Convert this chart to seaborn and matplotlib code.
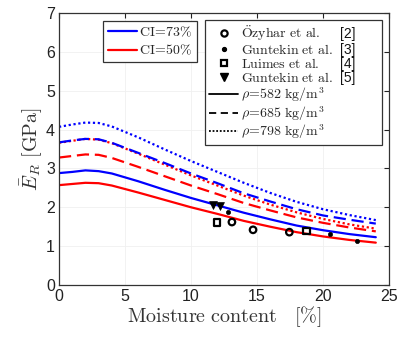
import matplotlib
matplotlib.use("Agg")
import matplotlib.pyplot as plt
import matplotlib.transforms as mtransforms
from matplotlib.lines import Line2D
import seaborn as sns

# Moisture content grid [%]
moisture = [0, 1, 2, 3, 4, 6, 8, 10, 12, 14, 16, 18, 20, 22, 24]

# Mean radial modulus [GPa], CI = 73 %
e582_ci73 = [2.88, 2.91, 2.95, 2.93, 2.87, 2.67, 2.45, 2.24, 2.05, 1.86, 1.69, 1.53, 1.41, 1.31, 1.23]
e685_ci73 = [3.67, 3.72, 3.76, 3.75, 3.66, 3.40, 3.14, 2.87, 2.62, 2.36, 2.15, 1.95, 1.79, 1.68, 1.58]
e798_ci73 = [4.07, 4.13, 4.18, 4.17, 4.08, 3.80, 3.49, 3.19, 2.91, 2.63, 2.37, 2.14, 1.95, 1.80, 1.67]

# Mean radial modulus [GPa], CI = 50 %
e582_ci50 = [2.57, 2.60, 2.63, 2.62, 2.56, 2.38, 2.19, 2.00, 1.83, 1.65, 1.50, 1.36, 1.25, 1.16, 1.09]
e685_ci50 = [3.28, 3.32, 3.36, 3.35, 3.27, 3.04, 2.80, 2.56, 2.34, 2.11, 1.92, 1.74, 1.60, 1.48, 1.38]
e798_ci50 = [3.66, 3.71, 3.76, 3.74, 3.65, 3.38, 3.10, 2.82, 2.56, 2.30, 2.07, 1.87, 1.70, 1.56, 1.45]

# Experimental data
ozyhar_mc = [13.1, 14.7, 17.45]
ozyhar_e = [1.62, 1.42, 1.36]
guntekin3_mc = [12.8, 20.5, 22.6]
guntekin3_e = [1.87, 1.31, 1.14]
luimes_mc = [11.95, 18.75]
luimes_e = [1.61, 1.39]
guntekin5_mc = [11.7, 12.2]
guntekin5_e = [2.06, 2.04]

x_ticks = [0, 5, 10, 15, 20, 25]
y_ticks = [0, 1, 2, 3, 4, 5, 6, 7]

sns.set_theme(style="white")
plt.rcParams["font.family"] = ["Liberation Sans", "DejaVu Sans"]
plt.rcParams["mathtext.fontset"] = "cm"

fig = plt.figure(figsize=(4.14, 3.38), dpi=100)
ax = fig.add_axes([59 / 414, 1 - 285 / 338, 330 / 414, 272 / 338])

blue = "#0000ff"
red = "#ff0000"
dotted = (0, (1, 1.2))
dashed = (0, (5.5, 2.6))
lw = 1.6

curves = [
    (e582_ci50, red, "-"),
    (e582_ci73, blue, "-"),
    (e685_ci50, red, dashed),
    (e798_ci50, red, dotted),
    (e685_ci73, blue, dashed),
    (e798_ci73, blue, dotted),
]
for vals, col, ls in curves:
    sns.lineplot(x=moisture, y=vals, color=col, linestyle=ls, linewidth=lw,
                 ax=ax, legend=False)

sns.scatterplot(x=ozyhar_mc, y=ozyhar_e, marker="o", s=22, facecolor="none",
                edgecolor="black", linewidth=1.6, ax=ax, zorder=5)
sns.scatterplot(x=guntekin3_mc, y=guntekin3_e, marker="o", s=9, color="black",
                edgecolor="black", linewidth=0.5, ax=ax, zorder=5)
sns.scatterplot(x=luimes_mc, y=luimes_e, marker="s", s=20, facecolor="none",
                edgecolor="black", linewidth=1.6, ax=ax, zorder=5)
sns.scatterplot(x=guntekin5_mc, y=guntekin5_e, marker="v", s=32, color="black",
                edgecolor="black", linewidth=0.5, ax=ax, zorder=5)

ax.set_xlim(0, 25)
ax.set_ylim(0, 7)
ax.set_xticks(x_ticks)
ax.set_yticks(y_ticks)
ax.tick_params(direction="in", length=3.5, width=0.8, top=True, right=True,
               labelsize=11.5, colors="#222222", pad=3)
ax.grid(True, color="#f0f0f0", linewidth=0.6)
for sp in ax.spines.values():
    sp.set_color("#333333")
    sp.set_linewidth(0.9)

ax.set_xlabel(r"$\mathrm{Moisture\ content}\quad[\%]$", fontsize=14.5, labelpad=0,
              color="#333333")
ax.set_ylabel(r"$\bar{E}_R\ [\mathrm{GPa}]$", fontsize=14.5, labelpad=1,
              color="#333333")

leg_kw = dict(frameon=True, fancybox=False, framealpha=1, edgecolor="#333333",
              fontsize=10, handlelength=2.1, handletextpad=0.2,
              borderpad=0.3, borderaxespad=0)

ci_handles = [Line2D([], [], color=blue, lw=lw), Line2D([], [], color=red, lw=lw)]
ci_labels = [r"$\mathrm{CI}\!=\!73\%$", r"$\mathrm{CI}\!=\!50\%$"]
leg1 = ax.legend(ci_handles, ci_labels, loc="upper right",
                 bbox_to_anchor=(0.418, 0.972), labelspacing=0.3, **leg_kw)
leg1.get_frame().set_linewidth(0.9)
ax.add_artist(leg1)

src_handles = [
    Line2D([], [], ls="none", marker="o", ms=4.5, mfc="none", mec="black", mew=1.6),
    Line2D([], [], ls="none", marker="o", ms=2.8, color="black"),
    Line2D([], [], ls="none", marker="s", ms=4.3, mfc="none", mec="black", mew=1.6),
    Line2D([], [], ls="none", marker="v", ms=6, color="black"),
    Line2D([], [], color="black", ls="-", lw=1.3),
    Line2D([], [], color="black", ls=(0, (4, 2.5)), lw=1.3),
    Line2D([], [], color="black", ls=(0, (1, 1)), lw=1.3),
]
src_labels = [
    r"$\mathrm{\ddot{O}zyhar\ et\ al.}$",
    r"$\mathrm{Guntekin\ et\ al.}$",
    r"$\mathrm{Luimes\ et\ al.}$",
    r"$\mathrm{Guntekin\ et\ al.}$",
    r"$\rho\!=\!582\ \mathrm{kg/m^3}$",
    r"$\rho\!=\!685\ \mathrm{kg/m^3}$",
    r"$\rho\!=\!798\ \mathrm{kg/m^3}$",
]
leg2 = ax.legend(src_handles, src_labels, loc="upper left", mode="expand",
                 bbox_to_anchor=(0.4424, 0.975, 0.5366, 0), labelspacing=0.0,
                 **leg_kw)
leg2.get_frame().set_linewidth(0.9)

# reference numbers placed as a column next to the source names
fig.canvas.draw()
renderer = fig.canvas.get_renderer()
texts = leg2.get_texts()
x0 = min(t.get_window_extent(renderer).x0 for t in texts)
for i, t in enumerate(texts[:4]):
    bb = t.get_window_extent(renderer)
    ax.text(x0 + 99, (bb.y0 + bb.y1) / 2, f"[{i + 2}]", fontsize=10,
            va="center", ha="left", color="#111111",
            transform=mtransforms.IdentityTransform(), zorder=10)

fig.savefig("out.png", dpi=100)
